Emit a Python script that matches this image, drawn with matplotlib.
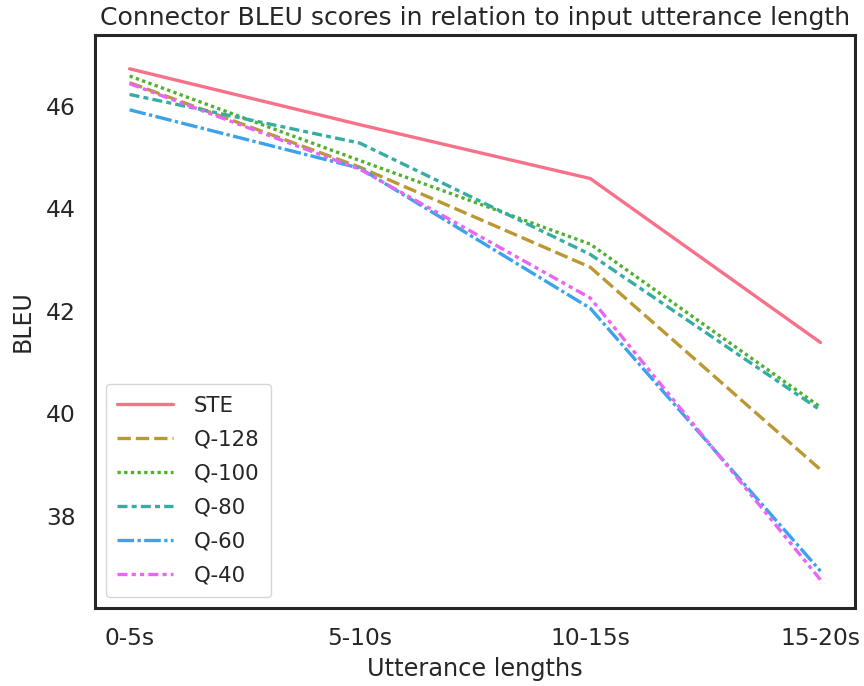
import matplotlib
matplotlib.use("Agg")
import matplotlib.pyplot as plt
import seaborn as sns
import pandas as pd

lengths = ["0-5s", "5-10s", "10-15s", "15-20s"]
models = ["STE", "Q-128", "Q-100", "Q-80", "Q-60", "Q-40"]
ste = [46.72, 45.63, 44.58, 41.38]
q128 = [46.45, 44.80, 42.85, 38.90]
q100 = [46.58, 44.93, 43.30, 40.12]
q80 = [46.22, 45.27, 43.10, 40.06]
q60 = [45.92, 44.78, 42.05, 36.92]
q40 = [46.43, 44.76, 42.25, 36.75]

series = [ste, q128, q100, q80, q60, q40]
rows = []
for m, vals in zip(models, series):
    for l, v in zip(lengths, vals):
        rows.append({"Utterance lengths": l, "BLEU": v, "Model": m})
df = pd.DataFrame(rows)

sns.set_theme(style="white")
plt.rcParams['font.family'] = ['DejaVu Sans']

fig = plt.figure(figsize=(8.64, 6.86), dpi=100)
ax = fig.add_axes([0.110, 0.1137, 0.8796, 0.8353])
sns.lineplot(data=df, x="Utterance lengths", y="BLEU", hue="Model", style="Model",
             palette="husl", linewidth=2.4, ax=ax, sort=False)

ax.set_title("Connector BLEU scores in relation to input utterance length", fontsize=18.1, pad=7)
ax.set_xlabel("Utterance lengths", fontsize=17.3, labelpad=5)
ax.set_ylabel("BLEU", fontsize=17, labelpad=8)
ax.tick_params(labelsize=16.8)
ax.tick_params(axis="x", pad=8)
ax.tick_params(axis="y", pad=8)
ax.set_yticks([38, 40, 42, 44, 46])
ax.set_ylim(36.2, 47.38)
ax.set_xlim(-0.15, 3.15)
for s in ax.spines.values():
    s.set_color("#262626")
    s.set_linewidth(2.2)
leg = ax.legend(loc="lower left", fontsize=15.3, handlelength=2.6, borderpad=0.55,
                labelspacing=0.66, handletextpad=1.0)

fig.savefig("out.png", dpi=100)
